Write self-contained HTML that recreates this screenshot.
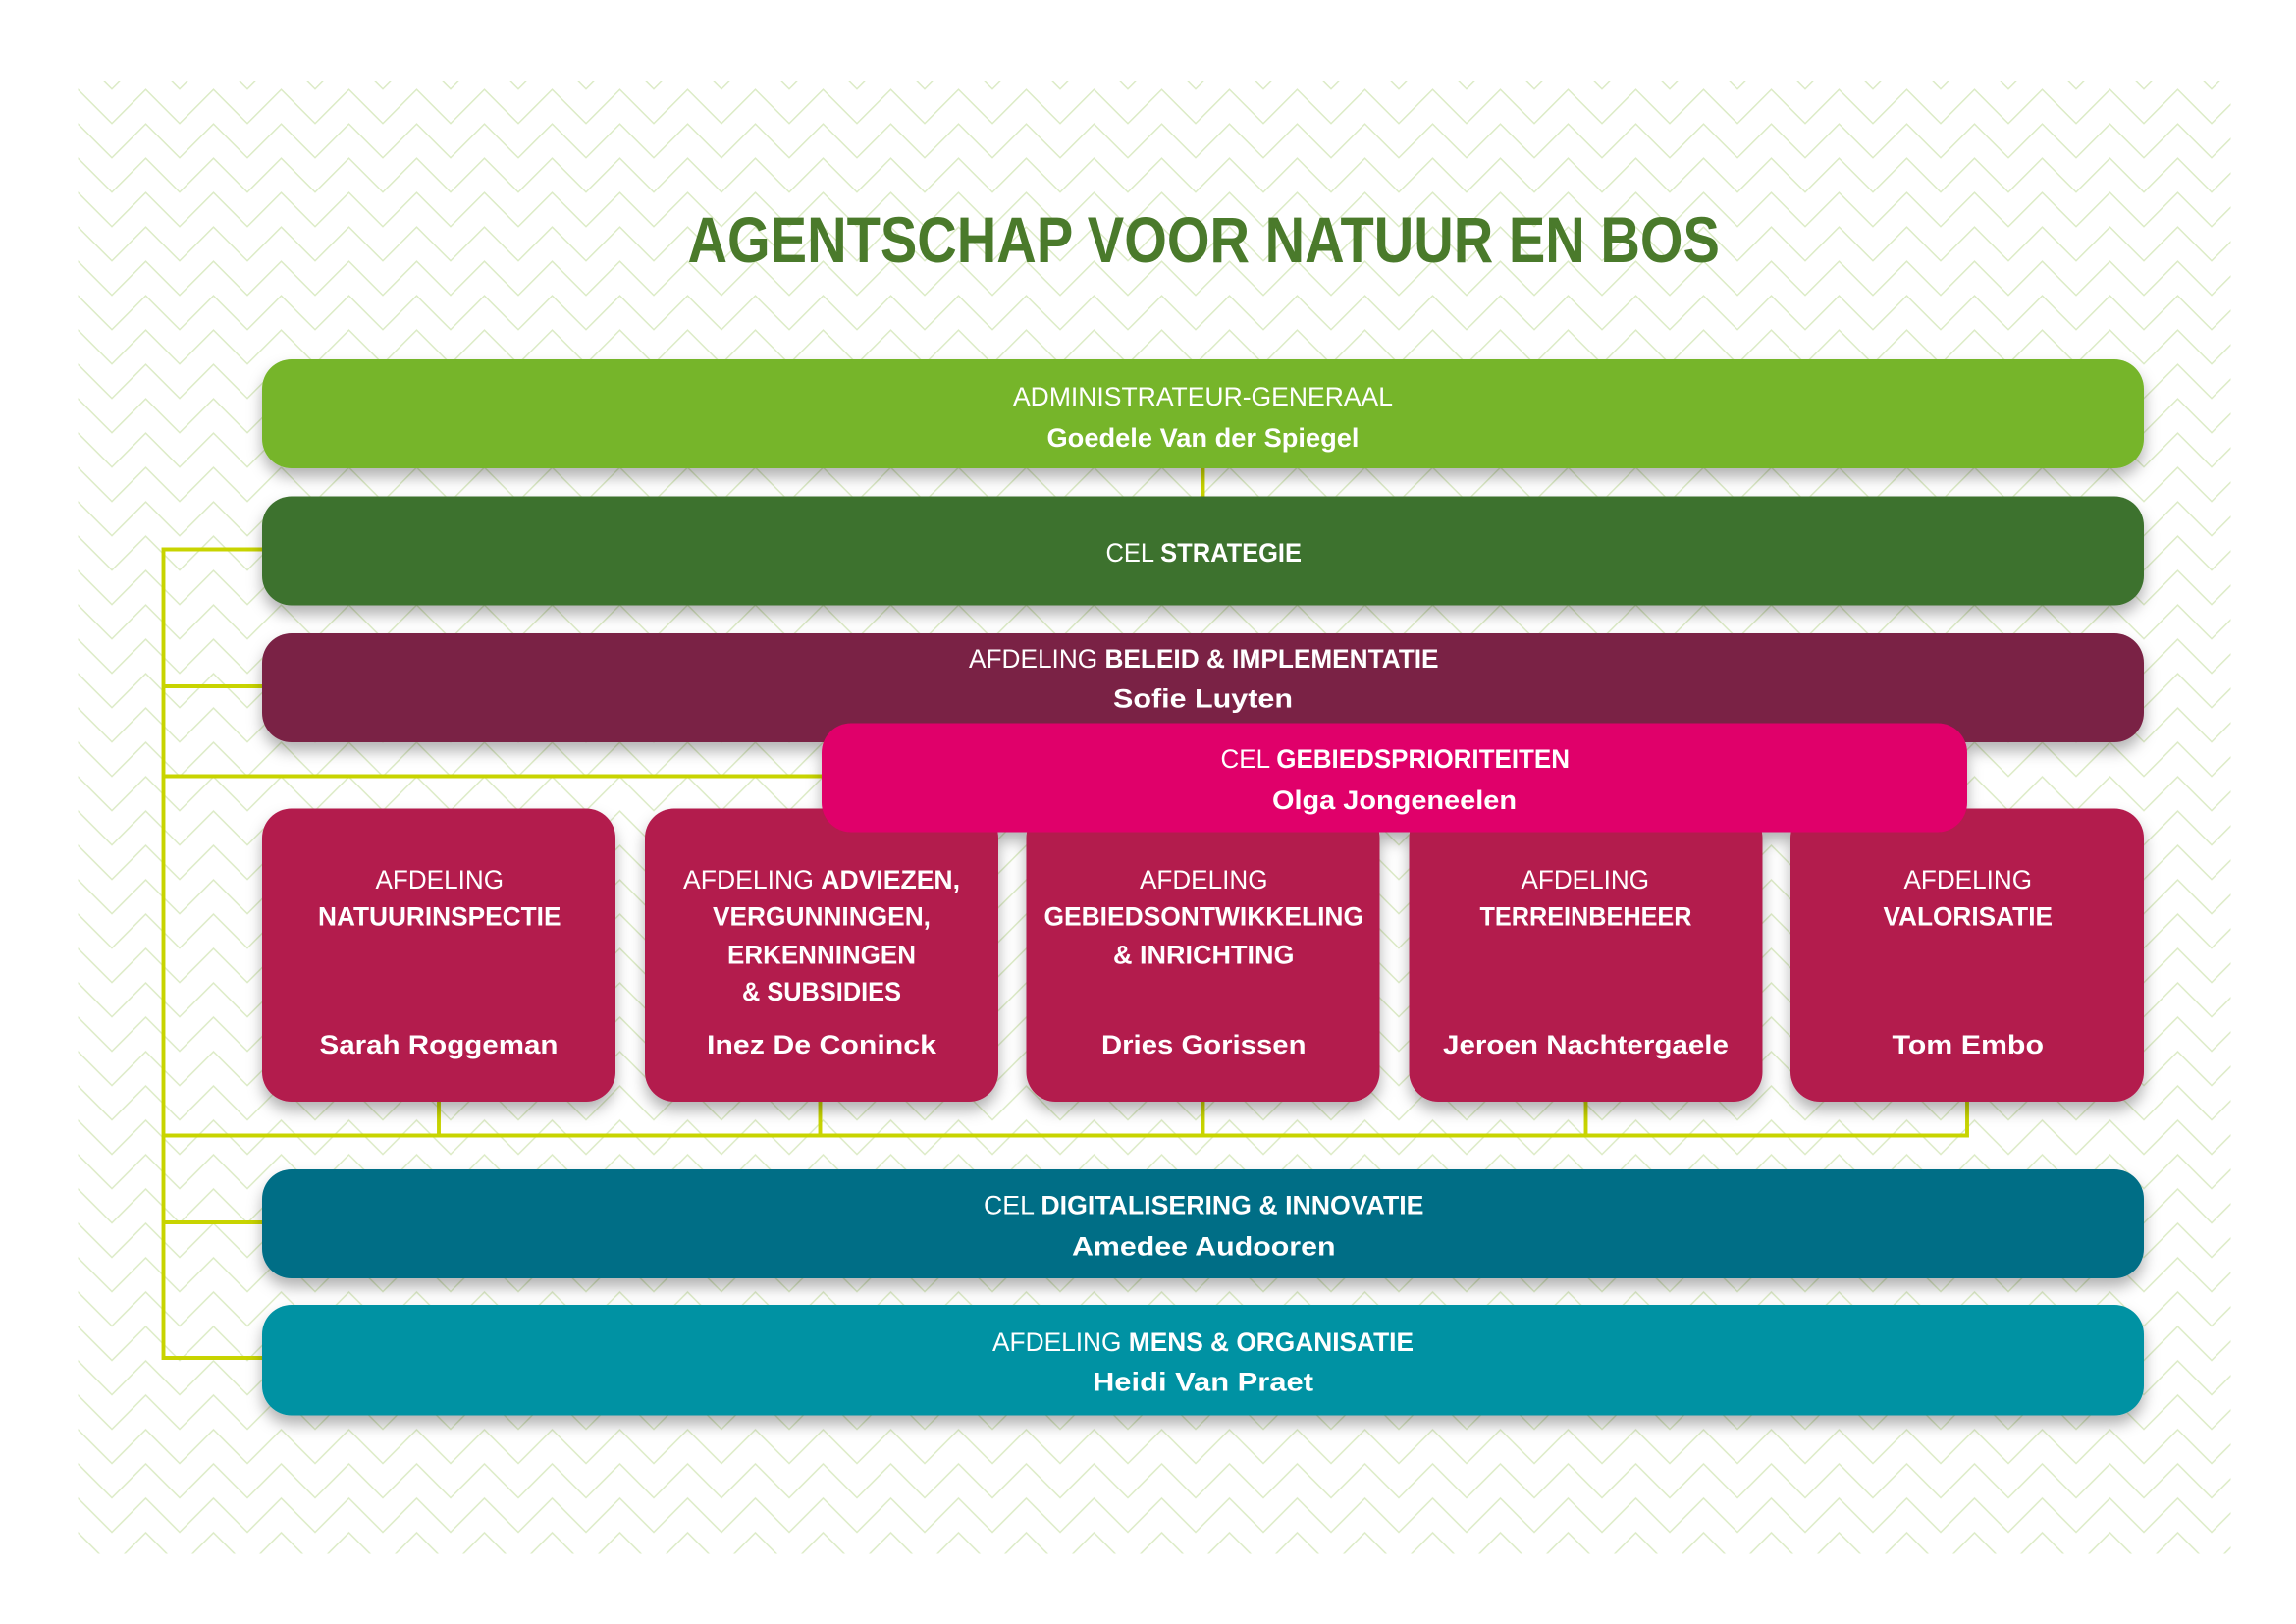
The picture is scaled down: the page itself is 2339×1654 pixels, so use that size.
<!DOCTYPE html>
<html><head><meta charset="utf-8"><style>
html,body{margin:0;padding:0;background:#fff;}
svg{display:block;}
text{font-family:"Liberation Sans",sans-serif;fill:#fff;text-anchor:start;}
.l{font-weight:normal;font-size:18px;}
.b{font-weight:bold;font-size:18px;}
</style></head><body>
<svg width="2339" height="1654" viewBox="0 0 1559.33 1102.67" xmlns="http://www.w3.org/2000/svg">
<defs>
<pattern id="zz" x="53" y="55" width="46" height="23.33" patternUnits="userSpaceOnUse">
<path d="M-11.5,17.5 L0,5.83 L23,28.83 L46,5.83 L57.5,17.5 M-11.5,-5.83 L0,-17.5 L23,5.5 L46,-17.5 L57.5,-5.83" fill="none" stroke="#dcebc6" stroke-width="1"/>
</pattern>
<filter id="sh" x="-5%" y="-20%" width="110%" height="160%">
<feDropShadow dx="0" dy="6" stdDeviation="5" flood-color="#000" flood-opacity="0.3"/>
</filter>
</defs>
<rect x="53" y="55" width="1462" height="1000" fill="url(#zz)"/>

<text x="467" y="178" textLength="701" lengthAdjust="spacingAndGlyphs" style="font-weight:bold;font-size:44px;fill:#4a7a2b">AGENTSCHAP VOOR NATUUR EN BOS</text>

<g stroke="#c8d400" stroke-width="2.6" fill="none">
<path d="M817,318 V337"/>
<path d="M178,373 H111 V922 H178"/>
<path d="M111,466 H200"/>
<path d="M111,527 H570"/>
<path d="M111,830 H178"/>
<path d="M111,771 H1336 V740"/>
<path d="M298,740 V771 M557,740 V771 M817,740 V771 M1077,740 V771"/>
</g>

<g filter="url(#sh)">
<rect x="178" y="244" width="1278" height="74" rx="20" fill="#76b52c"/>
<rect x="178" y="337" width="1278" height="74" rx="20" fill="#3e722f"/>
<rect x="178" y="430" width="1278" height="74" rx="20" fill="#7a2445"/>
<rect x="178" y="549" width="240" height="199" rx="20" fill="#b31a4e"/>
<rect x="438" y="549" width="240" height="199" rx="20" fill="#b31a4e"/>
<rect x="697" y="549" width="240" height="199" rx="20" fill="#b31a4e"/>
<rect x="957" y="549" width="240" height="199" rx="20" fill="#b31a4e"/>
<rect x="1216" y="549" width="240" height="199" rx="20" fill="#b31a4e"/>
<rect x="558" y="491" width="778" height="74" rx="20" fill="#e0006a"/>
<rect x="178" y="794" width="1278" height="74" rx="20" fill="#006e86"/>
<rect x="178" y="886" width="1278" height="75" rx="20" fill="#0092a3"/>
</g>

<text class="l" x="688" y="275.5" textLength="258" lengthAdjust="spacingAndGlyphs">ADMINISTRATEUR-GENERAAL</text>
<text class="b" x="711" y="303.5" textLength="212" lengthAdjust="spacingAndGlyphs">Goedele Van der Spiegel</text>

<text class="l" x="751" y="381.5" textLength="133" lengthAdjust="spacingAndGlyphs">CEL <tspan class="b">STRATEGIE</tspan></text>

<text class="l" x="658" y="453.5" textLength="319" lengthAdjust="spacingAndGlyphs">AFDELING <tspan class="b">BELEID &amp; IMPLEMENTATIE</tspan></text>
<text class="b" x="756" y="480.5" textLength="122" lengthAdjust="spacingAndGlyphs">Sofie Luyten</text>

<text class="l" x="829" y="521.5" textLength="237" lengthAdjust="spacingAndGlyphs">CEL <tspan class="b">GEBIEDSPRIORITEITEN</tspan></text>
<text class="b" x="864" y="549.5" textLength="166" lengthAdjust="spacingAndGlyphs">Olga Jongeneelen</text>

<text class="l" x="255" y="603.5" textLength="87" lengthAdjust="spacingAndGlyphs">AFDELING</text>
<text class="b" x="216" y="628.5" textLength="165" lengthAdjust="spacingAndGlyphs">NATUURINSPECTIE</text>
<text class="b" x="217" y="715.5" textLength="162" lengthAdjust="spacingAndGlyphs">Sarah Roggeman</text>

<text class="l" x="464" y="603.5" textLength="188" lengthAdjust="spacingAndGlyphs">AFDELING <tspan class="b">ADVIEZEN,</tspan></text>
<text class="b" x="484" y="628.5" textLength="148" lengthAdjust="spacingAndGlyphs">VERGUNNINGEN,</text>
<text class="b" x="494" y="654.5" textLength="128" lengthAdjust="spacingAndGlyphs">ERKENNINGEN</text>
<text class="b" x="504" y="679.5" textLength="108" lengthAdjust="spacingAndGlyphs">&amp; SUBSIDIES</text>
<text class="b" x="480" y="715.5" textLength="156" lengthAdjust="spacingAndGlyphs">Inez De Coninck</text>

<text class="l" x="774" y="603.5" textLength="87" lengthAdjust="spacingAndGlyphs">AFDELING</text>
<text class="b" x="709" y="628.5" textLength="217" lengthAdjust="spacingAndGlyphs">GEBIEDSONTWIKKELING</text>
<text class="b" x="756" y="654.5" textLength="123" lengthAdjust="spacingAndGlyphs">&amp; INRICHTING</text>
<text class="b" x="748" y="715.5" textLength="139" lengthAdjust="spacingAndGlyphs">Dries Gorissen</text>

<text class="l" x="1033" y="603.5" textLength="87" lengthAdjust="spacingAndGlyphs">AFDELING</text>
<text class="b" x="1005" y="628.5" textLength="144" lengthAdjust="spacingAndGlyphs">TERREINBEHEER</text>
<text class="b" x="980" y="715.5" textLength="194" lengthAdjust="spacingAndGlyphs">Jeroen Nachtergaele</text>

<text class="l" x="1293" y="603.5" textLength="87" lengthAdjust="spacingAndGlyphs">AFDELING</text>
<text class="b" x="1279" y="628.5" textLength="115" lengthAdjust="spacingAndGlyphs">VALORISATIE</text>
<text class="b" x="1285" y="715.5" textLength="103" lengthAdjust="spacingAndGlyphs">Tom Embo</text>

<text class="l" x="668" y="824.5" textLength="299" lengthAdjust="spacingAndGlyphs">CEL <tspan class="b">DIGITALISERING &amp; INNOVATIE</tspan></text>
<text class="b" x="728" y="852.5" textLength="179" lengthAdjust="spacingAndGlyphs">Amedee Audooren</text>

<text class="l" x="674" y="917.5" textLength="286" lengthAdjust="spacingAndGlyphs">AFDELING <tspan class="b">MENS &amp; ORGANISATIE</tspan></text>
<text class="b" x="742" y="944.5" textLength="150" lengthAdjust="spacingAndGlyphs">Heidi Van Praet</text>
</svg>
</body></html>
